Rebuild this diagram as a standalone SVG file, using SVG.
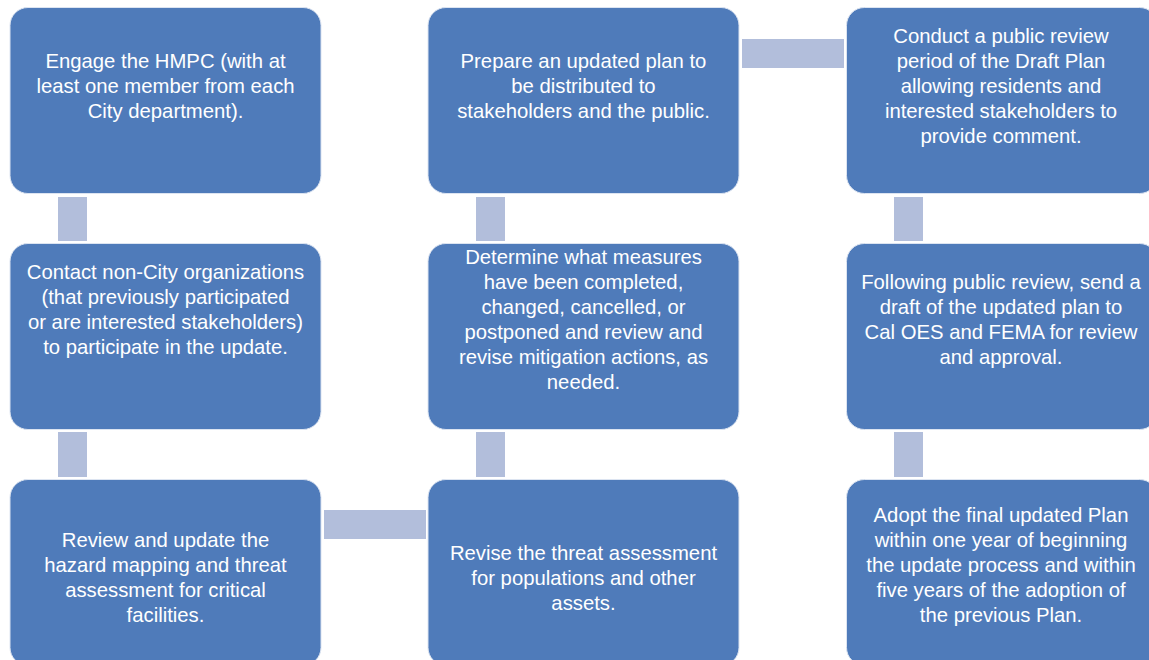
<svg xmlns="http://www.w3.org/2000/svg" width="1149" height="660" viewBox="0 0 1149 660">
<style>
.box{fill:#4F7BBA;stroke:#DCE4F1;stroke-width:1}
.con{fill:#B2BEDB}
text{font-family:"Liberation Sans",Arial,sans-serif;font-size:20.3px;fill:#FFFFFF;text-anchor:middle}
</style>
<rect width="1149" height="660" fill="#FFFFFF"/>
<g id="connectors">
<rect class="con" x="58" y="197" width="29" height="44"/>
<rect class="con" x="58" y="432" width="29" height="45"/>
<rect class="con" x="324" y="510" width="102" height="29"/>
<rect class="con" x="476" y="432" width="29" height="45"/>
<rect class="con" x="476" y="197" width="29" height="44"/>
<rect class="con" x="742" y="39" width="102" height="29"/>
<rect class="con" x="894" y="197" width="29" height="44"/>
<rect class="con" x="894" y="432" width="29" height="45"/>
</g>
<g id="n1">
<rect class="box" x="10" y="7.5" width="311" height="186" rx="18"/>
<text x="165.5" y="68">Engage the HMPC (with at</text>
<text x="165.5" y="93">least one member from each</text>
<text x="165.5" y="118">City department).</text>
</g>
<g id="n2">
<rect class="box" x="10" y="243.5" width="311" height="186" rx="18"/>
<text x="165.5" y="279">Contact non-City organizations</text>
<text x="165.5" y="304">(that  previously participated</text>
<text x="165.5" y="329">or are interested stakeholders)</text>
<text x="165.5" y="354">to participate in the update.</text>
</g>
<g id="n3">
<rect class="box" x="10" y="479.5" width="311" height="186" rx="18"/>
<text x="165.5" y="547">Review and update the</text>
<text x="165.5" y="572">hazard mapping and threat</text>
<text x="165.5" y="597">assessment for critical</text>
<text x="165.5" y="622">facilities.</text>
</g>
<g id="n4">
<rect class="box" x="428" y="479.5" width="311" height="186" rx="18"/>
<text x="583.5" y="560">Revise the threat assessment</text>
<text x="583.5" y="585">for populations and other</text>
<text x="583.5" y="610">assets.</text>
</g>
<g id="n5">
<rect class="box" x="428" y="243.5" width="311" height="186" rx="18"/>
<text x="583.5" y="264">Determine what measures</text>
<text x="583.5" y="289">have been completed,</text>
<text x="583.5" y="314">changed, cancelled, or</text>
<text x="583.5" y="339">postponed and review and</text>
<text x="583.5" y="364">revise mitigation actions, as</text>
<text x="583.5" y="389">needed.</text>
</g>
<g id="n6">
<rect class="box" x="428" y="7.5" width="311" height="186" rx="18"/>
<text x="583.5" y="68">Prepare an updated plan to</text>
<text x="583.5" y="93">be distributed to</text>
<text x="583.5" y="118">stakeholders and the public.</text>
</g>
<g id="n7">
<rect class="box" x="846.5" y="7.5" width="311" height="186" rx="18"/>
<text x="1001" y="43">Conduct a public review</text>
<text x="1001" y="68">period of the Draft Plan</text>
<text x="1001" y="93">allowing residents and</text>
<text x="1001" y="118">interested stakeholders to</text>
<text x="1001" y="143">provide comment.</text>
</g>
<g id="n8">
<rect class="box" x="846.5" y="243.5" width="311" height="186" rx="18"/>
<text x="1001" y="289">Following public review, send a</text>
<text x="1001" y="314">draft of the updated plan  to</text>
<text x="1001" y="339">Cal OES and FEMA for review</text>
<text x="1001" y="364">and approval.</text>
</g>
<g id="n9">
<rect class="box" x="846.5" y="479.5" width="311" height="186" rx="18"/>
<text x="1001" y="522">Adopt the final updated Plan</text>
<text x="1001" y="547">within one year of beginning</text>
<text x="1001" y="572">the update process and within</text>
<text x="1001" y="597">five years of the adoption of</text>
<text x="1001" y="622">the previous Plan.</text>
</g>
</svg>
